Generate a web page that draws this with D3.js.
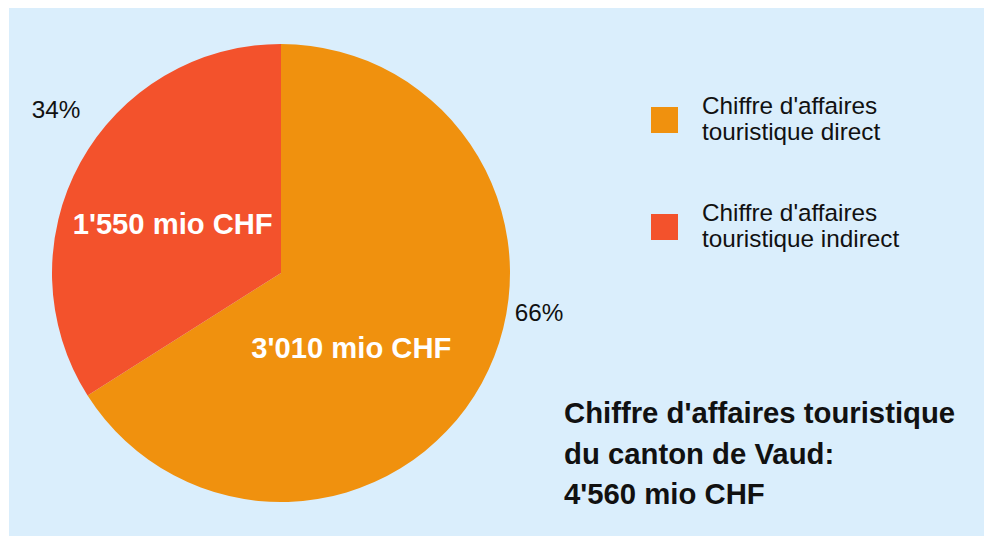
<!DOCTYPE html>
<html>
<head>
<meta charset="utf-8">
<script src="https://cdn.jsdelivr.net/npm/d3@7"></script>
<style>
  html, body { margin: 0; padding: 0; background: #fff; }
  svg { display: block; font-family: "Liberation Sans", Arial, sans-serif; }
</style>
</head>
<body>
<script>
// chiffre d'affaires touristique, canton de Vaud (mio CHF)
var categories = ["Chiffre d'affaires touristique direct", "Chiffre d'affaires touristique indirect"];
var legendLines = [["Chiffre d'affaires", "touristique direct"], ["Chiffre d'affaires", "touristique indirect"]];
var values = [3010, 1550];
var colors = ["#f0910e", "#f3522c"];
var titleLines = ["Chiffre d'affaires touristique", "du canton de Vaud:"];

var width = 984, height = 536;
var cx = 281, cy = 273, radius = 229;

var fmt = d3.formatLocale({decimal: ".", thousands: "'", grouping: [3], currency: ["", ""]}).format(",");
var total = d3.sum(values);

var svg = d3.select('body').append('svg')
  .attr('width', width)
  .attr('height', height);

svg.append('rect')
  .attr('x', 9).attr('y', 8)
  .attr('width', width - 9).attr('height', height - 8)
  .attr('fill', '#daeefc');

var pie = d3.pie().sort(null).value(function(d) { return d; });
var arc = d3.arc().innerRadius(0).outerRadius(radius);
var arcs = pie(values);

var g = svg.append('g').attr('transform', 'translate(' + cx + ',' + cy + ')');

g.selectAll('path')
  .data(arcs)
  .enter()
  .append('path')
  .attr('d', arc)
  .attr('fill', function(d, i) { return colors[i]; });

// value labels inside slices (shifted a bit from centroid like the original)
var valueShift = [[-30, 30], [-8, 16.5]];
g.selectAll('text.val')
  .data(arcs)
  .enter()
  .append('text')
  .attr('class', 'val')
  .attr('x', function(d, i) { return arc.centroid(d)[0] + valueShift[i][0]; })
  .attr('y', function(d, i) { return arc.centroid(d)[1] + valueShift[i][1]; })
  .attr('text-anchor', 'middle')
  .attr('fill', '#fff')
  .attr('font-weight', 'bold')
  .attr('font-size', 29.2)
  .text(function(d) { return fmt(d.value) + ' mio CHF'; });

// percentage labels outside
var pctPos = [[539, 320.5], [56, 117.5]];
svg.selectAll('text.pct')
  .data(arcs)
  .enter()
  .append('text')
  .attr('class', 'pct')
  .attr('x', function(d, i) { return pctPos[i][0]; })
  .attr('y', function(d, i) { return pctPos[i][1]; })
  .attr('text-anchor', 'middle')
  .attr('font-size', 24.3)
  .attr('fill', '#111')
  .text(function(d) { return Math.round(d.value / total * 100) + '%'; });

// legend
var legend = svg.selectAll('g.legend')
  .data(categories)
  .enter()
  .append('g')
  .attr('class', 'legend')
  .attr('transform', function(d, i) { return 'translate(651,' + (107 + i * 107) + ')'; });

legend.append('rect')
  .attr('width', 27).attr('height', 26)
  .attr('fill', function(d, i) { return colors[i]; });

legend.each(function(d, i) {
  var t = d3.select(this).append('text')
    .attr('font-size', 24.3)
    .attr('fill', '#111');
  legendLines[i].forEach(function(line, j) {
    t.append('tspan')
      .attr('x', 51)
      .attr('y', 6.5 + j * 26)
      .text(line);
  });
});

// title block
var title = svg.append('text')
  .attr('font-size', 29.3)
  .attr('font-weight', 'bold')
  .attr('fill', '#111');
titleLines.concat([fmt(total) + ' mio CHF']).forEach(function(line, j) {
  title.append('tspan')
    .attr('x', 564)
    .attr('y', 423 + j * 40.5)
    .text(line);
});
</script>
</body>
</html>
